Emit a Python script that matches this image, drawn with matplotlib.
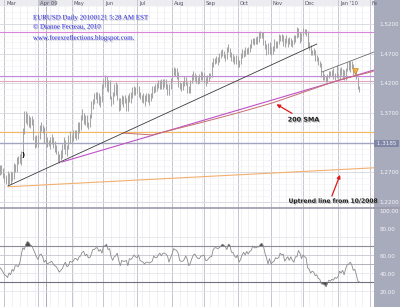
import numpy as np
import pandas as pd
import matplotlib
matplotlib.use("Agg")
import matplotlib.pyplot as plt
import matplotlib.patheffects as pe
import matplotlib.transforms as mtransforms
from matplotlib.patches import Rectangle

days = pd.bdate_range("2009-02-25", "2010-01-21")
axis_days = pd.bdate_range("2009-02-25", "2010-02-10")

# daily highs / lows, one row per month
hi = [1.283, 1.282, 1.277,
      1.268, 1.265, 1.272, 1.268, 1.272, 1.270, 1.285, 1.284, 1.296, 1.297, 1.301, 1.305, 1.345, 1.374, 1.374, 1.370, 1.367, 1.364, 1.365, 1.359, 1.331, 1.332,
      1.333, 1.350, 1.354, 1.350, 1.346, 1.334, 1.330, 1.324, 1.329, 1.335, 1.330, 1.323, 1.316, 1.305, 1.300, 1.308, 1.318, 1.330, 1.325, 1.316, 1.333, 1.339,
      1.333, 1.341, 1.342, 1.342, 1.355, 1.354, 1.367, 1.376, 1.370, 1.366, 1.366, 1.355, 1.369, 1.390, 1.394, 1.404, 1.405, 1.406, 1.403, 1.398, 1.419,
      1.427, 1.434, 1.432, 1.426, 1.425, 1.398, 1.406, 1.419, 1.423, 1.418, 1.395, 1.396, 1.400, 1.398, 1.401, 1.395, 1.401, 1.404, 1.405, 1.414, 1.415, 1.414,
      1.422, 1.415, 1.405, 1.400, 1.403, 1.400, 1.404, 1.403, 1.402, 1.404, 1.416, 1.415, 1.418, 1.421, 1.425, 1.425, 1.427, 1.428, 1.428, 1.427, 1.419, 1.418, 1.429,
      1.445, 1.447, 1.446, 1.445, 1.439, 1.423, 1.421, 1.424, 1.432, 1.430, 1.422, 1.416, 1.426, 1.436, 1.440, 1.437, 1.434, 1.431, 1.436, 1.440, 1.439,
      1.438, 1.431, 1.434, 1.437, 1.438, 1.456, 1.462, 1.463, 1.466, 1.464, 1.471, 1.476, 1.478, 1.474, 1.470, 1.482, 1.486, 1.480, 1.472, 1.470, 1.466, 1.468,
      1.466, 1.460, 1.471, 1.478, 1.477, 1.481, 1.479, 1.482, 1.486, 1.495, 1.497, 1.496, 1.498, 1.499, 1.506, 1.508, 1.506, 1.506, 1.493, 1.487, 1.488, 1.490,
      1.482, 1.483, 1.494, 1.492, 1.491, 1.503, 1.502, 1.504, 1.502, 1.496, 1.501, 1.497, 1.498, 1.497, 1.493, 1.501, 1.501, 1.515, 1.514, 1.507, 1.505,
      1.514, 1.512, 1.512, 1.509, 1.489, 1.485, 1.477, 1.479, 1.476, 1.467, 1.465, 1.457, 1.454, 1.441, 1.436, 1.432, 1.435, 1.441, 1.440, 1.442, 1.446, 1.438, 1.451,
      1.436, 1.445, 1.448, 1.444, 1.443, 1.446, 1.456, 1.457, 1.458, 1.457, 1.452, 1.443, 1.443, 1.430, 1.415]
lo = [1.266, 1.267, 1.260,
      1.253, 1.250, 1.246, 1.250, 1.251, 1.255, 1.259, 1.270, 1.271, 1.284, 1.286, 1.282, 1.298, 1.335, 1.353, 1.350, 1.346, 1.344, 1.350, 1.325, 1.311, 1.313,
      1.313, 1.326, 1.340, 1.336, 1.320, 1.318, 1.312, 1.315, 1.310, 1.318, 1.311, 1.304, 1.300, 1.288, 1.286, 1.291, 1.294, 1.310, 1.300, 1.297, 1.309, 1.320,
      1.318, 1.322, 1.327, 1.325, 1.326, 1.336, 1.341, 1.358, 1.352, 1.350, 1.347, 1.343, 1.347, 1.361, 1.377, 1.385, 1.394, 1.387, 1.384, 1.380, 1.388,
      1.410, 1.413, 1.407, 1.405, 1.394, 1.381, 1.385, 1.398, 1.401, 1.392, 1.374, 1.375, 1.385, 1.380, 1.387, 1.374, 1.374, 1.389, 1.386, 1.396, 1.401, 1.400,
      1.403, 1.397, 1.394, 1.389, 1.387, 1.381, 1.390, 1.388, 1.384, 1.391, 1.395, 1.404, 1.405, 1.407, 1.412, 1.410, 1.411, 1.411, 1.414, 1.411, 1.400, 1.401, 1.410,
      1.423, 1.434, 1.432, 1.428, 1.413, 1.411, 1.407, 1.409, 1.416, 1.417, 1.403, 1.404, 1.403, 1.421, 1.425, 1.424, 1.420, 1.419, 1.421, 1.426, 1.426,
      1.420, 1.416, 1.420, 1.424, 1.429, 1.431, 1.448, 1.452, 1.454, 1.451, 1.456, 1.462, 1.466, 1.463, 1.457, 1.461, 1.472, 1.464, 1.458, 1.456, 1.452, 1.453,
      1.448, 1.448, 1.453, 1.463, 1.465, 1.466, 1.469, 1.470, 1.473, 1.479, 1.486, 1.484, 1.487, 1.486, 1.490, 1.497, 1.496, 1.485, 1.478, 1.468, 1.470, 1.470,
      1.468, 1.470, 1.474, 1.480, 1.479, 1.486, 1.492, 1.492, 1.483, 1.482, 1.488, 1.482, 1.486, 1.483, 1.481, 1.487, 1.490, 1.496, 1.498, 1.488, 1.492,
      1.499, 1.503, 1.500, 1.482, 1.477, 1.467, 1.467, 1.468, 1.458, 1.457, 1.451, 1.448, 1.431, 1.426, 1.425, 1.422, 1.423, 1.429, 1.433, 1.432, 1.428, 1.425, 1.429,
      1.429, 1.428, 1.434, 1.428, 1.426, 1.425, 1.440, 1.443, 1.439, 1.446, 1.434, 1.433, 1.427, 1.410, 1.405]

rsi = [46, 44, 41, 38, 37, 35, 40, 38, 44, 42,
       48, 48, 47, 51, 60, 68, 66, 72, 75, 74,
       71, 70, 66, 62, 58, 55, 60, 61, 58, 52,
       54, 50, 51, 52, 53, 50, 48, 47, 44, 41,
       43, 45, 49, 52, 47, 48, 53, 52, 53, 56,
       56, 54, 58, 59, 63, 64, 59, 61, 57, 57,
       61, 66, 66, 68, 68, 64, 66, 62, 70, 70,
       72, 66, 67, 58, 54, 58, 59, 62, 54, 48,
       54, 53, 53, 54, 48, 56, 55, 57, 60, 58,
       57, 60, 54, 53, 52, 50, 52, 52, 51, 52,
       53, 59, 57, 57, 60, 62, 59, 62, 62, 61,
       59, 52, 57, 61, 67, 66, 65, 62, 54, 53,
       53, 55, 59, 55, 48, 51, 56, 60, 61, 58,
       56, 56, 59, 59, 60, 54, 54, 56, 58, 58,
       66, 68, 68, 67, 68, 70, 72, 71, 69, 66,
       72, 71, 63, 63, 59, 57, 60, 52, 55, 60,
       63, 60, 64, 61, 64, 65, 70, 68, 68, 69,
       69, 72, 73, 70, 62, 57, 50, 56, 50, 52,
       53, 57, 56, 57, 62, 60, 61, 53, 56, 58,
       54, 58, 54, 52, 58, 58, 65, 62, 56, 60,
       58, 57, 46, 44, 40, 42, 41, 37, 38, 34,
       33, 28, 28, 27, 25, 29, 32, 31, 33, 32,
       35, 34, 36, 42, 40, 43, 38, 45, 49, 50,
       52, 49, 43, 44, 38, 31, 30]

# 200 day SMA read at a few days
sma_day = [81, 100, 131, 156, 179, 223, 245]
sma_val = [1.336, 1.333, 1.353, 1.370, 1.387, 1.426, 1.440]

# horizontal levels drawn on the chart
levels = [1.5065, 1.432, 1.424, 1.338, 1.3185]
level_colors = ["#d884d8", "#c488dc", "#e2a4bc", "#f5b862", "#a2a4c0"]

# trend lines: (day0, price0, day1, price1)
black_line = (5.3, 1.2468, 208, 1.4862)
magenta_line = (40.7, 1.2873, 245.6, 1.4424)
orange_line = (5.3, 1.2455, 245.6, 1.2775)
channel_line = (211.4, 1.4391, 245.6, 1.4728)

price_ticks = [1.22, 1.27, 1.37, 1.42, 1.47, 1.52]
rsi_labels = ["20.00", "40.00", "60.00", "80.00", "100.00"]
rsi_label_pos = [18.9, 38.9, 58.9, 88.9, 108.9]

W, H = 400, 307
def box(x0, y0, x1, y1):
    return [x0 / W, 1 - y1 / H, (x1 - x0) / W, (y1 - y0) / H]

fig = plt.figure(figsize=(4.0, 3.07), dpi=100)
fig.patches.append(Rectangle((374 / W, 0), 26 / W, 1, transform=fig.transFigure,
                             facecolor="#a7abbc", edgecolor="none", zorder=-5))

ax = fig.add_axes(box(0, 6, 374, 208))
axr = fig.add_axes(box(0, 208, 374, 307), sharex=ax)
axh = fig.add_axes(box(0, 0, 374, 6), sharex=ax)

x = np.arange(len(days))
xmin, xmax = 0.05, 245.6

month_starts = [i for i in range(1, len(axis_days)) if axis_days[i].month != axis_days[i - 1].month]
month_names = [axis_days[i].strftime("%b") for i in month_starts]
month_names[month_names.index("Apr")] = "Apr 09"
month_names[month_names.index("Jan")] = "Jan '10"
month_names[-1] = "Fe"
week_starts = [i for i in range(len(axis_days)) if axis_days[i].weekday() == 0]

for a in (ax, axr, axh):
    a.set_xlim(xmin, xmax)
    for s in a.spines.values():
        s.set_visible(False)
    a.tick_params(axis="x", bottom=False, labelbottom=False)
    for w in week_starts:
        a.axvline(w, color="#ebebf0", lw=0.5, zorder=0)
    for m in month_starts:
        a.axvline(m, color="#c6c6d0", lw=0.7, zorder=0)
    a.axvline(30.2, color="#9c9cac", lw=0.6, zorder=0)

# price panel
ax.set_ylim(1.2097, 1.5504)
for p in np.arange(1.21, 1.551, 0.01):
    ax.axhline(p, color="#efeff3", lw=0.4, zorder=0)
for p in np.arange(1.22, 1.55, 0.05):
    ax.axhline(p, color="#d6d6de", lw=0.6, zorder=0)
for lv, c in zip(levels, level_colors):
    ax.axhline(lv, color=c, lw=1.0 if lv == 1.3185 else 0.8, zorder=1)

ax.vlines(x, lo, hi, color="#a6a6a6", lw=0.75, zorder=2)

for (d0, p0, d1, p1), c, lw in [(black_line, "#3c3c3c", 0.6), (magenta_line, "#c050c8", 0.8),
                                (orange_line, "#f2b070", 0.8), (channel_line, "#707070", 0.6)]:
    ax.plot([d0, d1], [p0, p1], color=c, lw=lw, zorder=3)
ax.plot(sma_day, sma_val, color="#c47070", lw=0.7, zorder=3)

ax.plot([233], [1.440], marker="v", color="#f0b040", ms=4, mec="#c08020", mew=0.4, zorder=4)
ax.text(15.1, 1.299, ")", fontsize=5, fontweight="bold", color="black", ha="center", va="center", zorder=4)

ax.yaxis.tick_right()
ax.set_yticks(price_ticks)
ax.set_yticklabels([f"{t:.4f}" for t in price_ticks])
ax.tick_params(axis="y", length=0, pad=4, labelsize=4.1, labelcolor="#f4f4f8")
trans = mtransforms.blended_transform_factory(ax.transAxes, ax.transData)
ax.text(1.003, 1.3185, " 1.3185 ", transform=trans, fontsize=4.1, color="#f4f4f8", va="center", ha="left",
        bbox=dict(facecolor="#7f86a6", edgecolor="none", pad=0.8), clip_on=False)

shadow = [pe.SimplePatchShadow(offset=(0.8, -0.8), shadow_rgbFace="#909090", alpha=0.6), pe.Normal()]
for txt, yy in [("EURUSD Daily 20100121 5:28 AM EST", 18),
                ("\u00a9 Dianne Fecteau, 2010", 27),
                ("www.forexreflections.blogspot.com.", 38)]:
    fig.text(33 / W, 1 - yy / H, txt, fontsize=5, color="#2626e6", family="Liberation Serif",
             va="center", ha="left", path_effects=shadow)

ax.annotate("200 SMA", xy=(180, 1.387), xytext=(189, 1.358), fontsize=4.6, fontweight="bold",
            color="#202020", ha="left", va="center", path_effects=shadow, zorder=6,
            arrowprops=dict(arrowstyle="-|>", color="#e01818", lw=0.9, mutation_scale=5))
ax.annotate("Uptrend line from 10/2008", xy=(224, 1.270), xytext=(189.5, 1.221), fontsize=4.3,
            fontweight="bold", color="#202020", ha="left", va="center", path_effects=shadow, zorder=6,
            annotation_clip=False,
            arrowprops=dict(arrowstyle="-|>", color="#e01818", lw=0.9, mutation_scale=5,
                            shrinkA=0, relpos=(0.47, 1.0)))

# rsi panel
axr.set_ylim(2.2, 112.2)
for v in (20, 40, 80):
    axr.axhline(v, color="#e2e2e8", lw=0.5, zorder=0)
axr.axhline(60, color="#c6c6d0", lw=0.6, zorder=0)
axr.axhline(50, color="#a4a4b0", lw=0.6, zorder=0)
axr.axhline(70, color="#8c8c9a", lw=0.8, zorder=0)
axr.axhline(30, color="#70707e", lw=0.8, zorder=0)
r = np.array(rsi, dtype=float)
axr.fill_between(x, r, 30, where=r < 30, color="#4a4a4a", lw=0, interpolate=True)
axr.fill_between(x, r, 70, where=r > 70, color="#4a4a4a", lw=0, interpolate=True)
axr.plot(x, r, color="#8a8a8a", lw=0.6)
axr.yaxis.tick_right()
axr.set_yticks(rsi_label_pos)
axr.set_yticklabels(rsi_labels)
axr.tick_params(axis="y", length=0, pad=4, labelsize=4.1, labelcolor="#f4f4f8")
axr.axhline(112.2, color="#9a9aaa", lw=1.2, clip_on=False)
axr.plot([1.0, 1.07], [1.0, 1.0], transform=axr.transAxes, color="#9a9aaa", lw=1.2, clip_on=False)

# header with months
axh.set_facecolor("#ededf1")
axh.set_ylim(0, 1)
axh.set_yticks([])
apr = month_starts[month_names.index("Apr 09")]
axh.add_patch(Rectangle((apr, 0), 12, 1, facecolor="#c6c6d0", edgecolor="none", zorder=1))
for m, name in zip(month_starts, month_names):
    axh.text(m + 1.2, 0.45, name, fontsize=3.8, color="#555566", va="center", ha="left", zorder=2)

fig.savefig("out.png", dpi=100)
